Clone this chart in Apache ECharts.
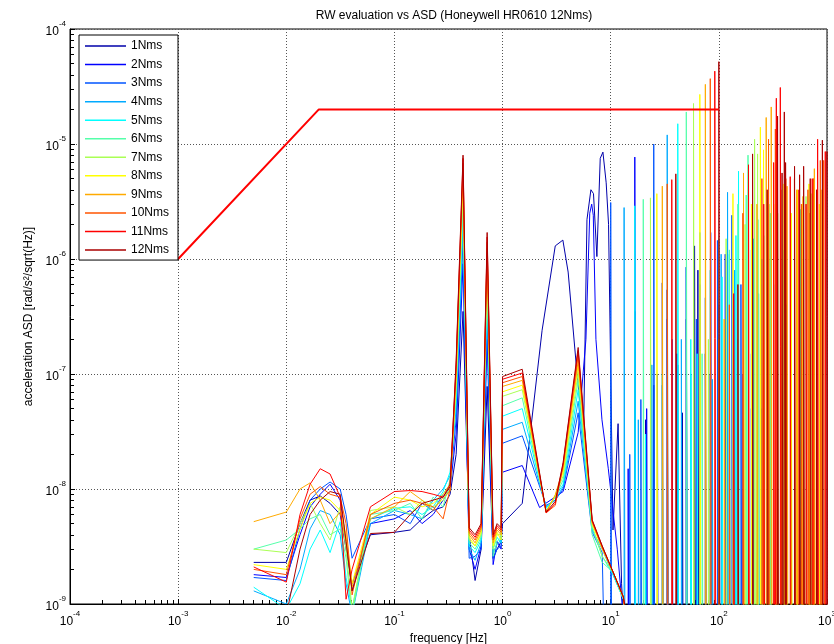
<!DOCTYPE html>
<html>
<head>
    <meta charset="utf-8">
    <title>RW evaluation vs ASD</title>
    <script src="https://cdn.jsdelivr.net/npm/echarts@6/dist/echarts.min.js"></script>
    <style>html, body { margin: 0; padding: 0; background: #fff; }</style>
</head>
<body>
    <div id="main" style="width: 834px;height:644px;"></div>

    <script type="text/javascript">

        var myChart = echarts.init(document.getElementById('main'));

        var names = ['1Nms', '2Nms', '3Nms', '4Nms', '5Nms', '6Nms', '7Nms', '8Nms', '9Nms', '10Nms', '11Nms', '12Nms'];
        var colors = ['#0000aa', '#0000ff', '#0055ff', '#00aaff', '#00ffff', '#55ffaa',
                      '#aaff55', '#ffff00', '#ffaa00', '#ff5500', '#ff0000', '#aa0000'];

        // low frequency part, shared frequency grid [Hz]
        var lowFreq = [0.005, 0.01, 0.0134, 0.0166, 0.0206, 0.0254, 0.0315, 0.0357, 0.0406, 0.06, 0.1, 0.14, 0.18,
                       0.228, 0.282, 0.327, 0.372, 0.431, 0.491, 0.557, 0.634, 0.72, 0.818, 0.89, 0.97];
        var low1  = [2.3e-9, 2.3e-9, 5e-9, 8e-9, 8.7e-9, 7.5e-9, 6e-9, 3e-9, 1.5e-9, 4e-9, 4.2e-9, 4.4e-9, 5.5e-9,
                     6.5e-9, 7e-9, 9e-9, 2e-8, 3.5e-7, 4e-9, 1.6e-9, 3e-9, 7.8e-8, 2.5e-9, 3e-9, 3.5e-9];
        var low2  = [1.8e-9, 1.7e-9, 4e-9, 7e-9, 9e-9, 1.1e-8, 8e-9, 3.5e-9, 1.3e-9, 5e-9, 5.5e-9, 6.5e-9, 5e-9,
                     6e-9, 8e-9, 1e-8, 3e-8, 9.1e-7, 3e-9, 2e-9, 3.2e-9, 2e-7, 2.2e-9, 3.5e-9, 3e-9];
        var low3  = [1.7e-9, 1.6e-9, 4.5e-9, 8e-9, 1e-8, 1.15e-8, 1e-8, 6e-9, 2.5e-9, 5.5e-9, 6e-9, 5e-9, 7.5e-9,
                     6.5e-9, 9e-9, 1.1e-8, 4e-8, 1.46e-6, 2.5e-9, 2.6e-9, 3e-9, 3e-7, 2.5e-9, 3e-9, 3.2e-9];
        var low4  = [1.3e-9, 1.0e-9, 2e-9, 4.5e-9, 6.5e-9, 6e-9, 4e-9, 1.5e-9, 8e-10, 5e-9, 6.5e-9, 6e-9, 5.5e-9,
                     8e-9, 1.0e-8, 1.3e-8, 5e-8, 2.0e-6, 3e-9, 2.4e-9, 3.4e-9, 4.7e-7, 2.8e-9, 3.3e-9, 3.6e-9];
        var low5  = [1.4e-9, 9e-10, 1.5e-9, 3e-9, 4.4e-9, 2.8e-9, 5.2e-9, 1.7e-9, 9e-10, 5.5e-9, 6.8e-9, 7e-9, 6e-9,
                     7e-9, 9.5e-9, 1.4e-8, 6e-8, 2.7e-6, 3.2e-9, 2.8e-9, 3.6e-9, 6.2e-7, 3e-9, 3.8e-9, 3.4e-9];
        var low6  = [3e-9, 3.6e-9, 4.5e-9, 5.5e-9, 6e-9, 4e-9, 4.5e-9, 2.5e-9, 8e-10, 6e-9, 6.5e-9, 7.5e-9, 5.5e-9,
                     8.5e-9, 7e-9, 1.2e-8, 7e-8, 3.4e-6, 3.4e-9, 3e-9, 3.8e-9, 7.6e-7, 2.6e-9, 3.5e-9, 3.8e-9];
        var low7  = [3e-9, 2.8e-9, 5e-9, 7.5e-9, 5e-9, 3.6e-9, 7e-9, 3e-9, 9e-10, 6.5e-9, 7e-9, 6e-9, 8e-9,
                     7e-9, 8e-9, 1e-8, 8e-8, 4.2e-6, 3.6e-9, 3.2e-9, 4e-9, 9.3e-7, 3e-9, 4e-9, 4e-9];
        var low8  = [2.2e-9, 2.0e-9, 4.5e-9, 7.5e-9, 8.5e-9, 8e-9, 6.5e-9, 4e-9, 1.5e-9, 6e-9, 8.5e-9, 8e-9, 7e-9,
                     7.5e-9, 9e-9, 1.1e-8, 9e-8, 5.2e-6, 3.8e-9, 3.2e-9, 4.2e-9, 1.1e-6, 3.2e-9, 4.2e-9, 3.6e-9];
        var low9  = [5.2e-9, 6.3e-9, 1e-8, 1.13e-8, 8e-9, 5e-9, 6.3e-9, 3.5e-9, 1.4e-9, 5.5e-9, 7e-9, 9.5e-9, 8e-9,
                     6.5e-9, 8.5e-9, 9.5e-9, 1e-7, 6e-6, 4e-9, 3.4e-9, 4.4e-9, 1.25e-6, 3.4e-9, 4.4e-9, 4e-9];
        var low10 = [2e-9, 1.8e-9, 5.5e-9, 9e-9, 1.05e-8, 9e-9, 8.5e-9, 5e-9, 1.2e-9, 6e-9, 7.5e-9, 8e-9, 7.5e-9,
                     7e-9, 5.5e-9, 1e-8, 1.1e-7, 6.8e-6, 4.2e-9, 3.6e-9, 4.6e-9, 1.4e-6, 3.6e-9, 4.6e-9, 4.2e-9];
        var low11 = [2.1e-9, 1.55e-9, 6e-9, 1.1e-8, 1.5e-8, 1.35e-8, 8.5e-9, 1.1e-9, 2e-9, 7e-9, 9.5e-9, 9.7e-9, 9.5e-9,
                     9e-9, 8.5e-9, 1.1e-8, 1.2e-7, 7.5e-6, 4.4e-9, 3.8e-9, 4.8e-9, 1.55e-6, 3.8e-9, 4.8e-9, 4.4e-9];
        var low12 = [9e-10, 8e-10, 3e-9, 6e-9, 8e-9, 9.5e-9, 9e-9, 3.5e-9, 1.3e-9, 4.1e-9, 4.2e-9, 6e-9, 7.5e-9,
                     8e-9, 8.5e-9, 1.05e-8, 1.3e-7, 8e-6, 4.6e-9, 4e-9, 5e-9, 1.7e-6, 4e-9, 5e-9, 4.6e-9];

        // 1..13 Hz part
        var midFreq = [1.0, 1.52, 2.53, 3.07, 3.63, 5.0, 6.74, 8.34, 10.5, 13.1];
        var midFreq1 = [1.0, 1.52, 2.32, 3.07, 3.61, 4.04, 4.8, 5.6, 6.03, 6.56, 6.93, 7.45, 8.0, 8.47, 9.08, 9.55, 10.5, 11.7, 12.6, 13.5];
        var mid1  = [5e-9, 7.5e-9, 2.4e-7, 1.3e-6, 1.46e-6, 7.7e-7, 1.2e-7, 2.7e-8, 2.2e-6, 4.0e-6, 3.7e-6, 1.05e-6, 7.5e-6, 8.5e-6, 4.6e-6, 2.0e-6, 4.4e-9, 3.7e-8, 1.5e-9, 5e-10];
        var midFreq2 = [1.0, 1.52, 2.2, 3.63, 5.0, 5.9, 6.4, 6.67, 6.9, 7.3, 8.3, 9.5, 11.5, 13.0];
        var mid2  = [1.4e-8, 1.6e-8, 6.9e-9, 9.5e-9, 3.1e-8, 2e-7, 2.5e-6, 3.0e-6, 2.4e-6, 2e-7, 4e-8, 1.5e-8, 3e-9, 8e-10];
        var mid3  = [2.5e-8, 2.9e-8, 7.2e-9, 8e-9, 1.0e-8, 4.6e-8, 4.2e-9, 2.8e-9];
        var mid4  = [3.3e-8, 3.8e-8, 7e-9, 8e-9, 1.05e-8, 5.8e-8, 4.4e-9, 3e-9, 1.8e-9, 1.1e-9];
        var mid5  = [4.3e-8, 5e-8, 6.8e-9, 8.5e-9, 1.1e-8, 7.3e-8, 4.6e-9, 2.6e-9, 1.8e-9, 1.1e-9];
        var mid6  = [5.3e-8, 6.2e-8, 6.5e-9, 8.5e-9, 1.2e-8, 8.9e-8, 4.0e-9, 2.3e-9, 1.9e-9, 1.1e-9];
        var mid7  = [6.4e-8, 7.3e-8, 6.4e-9, 8.7e-9, 1.3e-8, 1.03e-7, 4.8e-9, 2.6e-9, 1.9e-9, 1.1e-9];
        var mid8  = [7.0e-8, 8e-8, 6.3e-9, 8.8e-9, 1.4e-8, 1.2e-7, 5e-9, 3e-9, 1.9e-9, 1.15e-9];
        var mid9  = [7.8e-8, 8.8e-8, 6.3e-9, 8.9e-9, 1.5e-8, 1.3e-7, 5.1e-9, 3.1e-9, 1.9e-9, 1.15e-9];
        var mid10 = [8.4e-8, 9.5e-8, 6.2e-9, 7.2e-9, 1.6e-8, 1.45e-7, 5.2e-9, 3.1e-9, 1.9e-9, 1.15e-9];
        var mid11 = [9e-8, 1.02e-7, 6.2e-9, 7.5e-9, 1.65e-8, 1.6e-7, 5.3e-9, 3.2e-9, 1.9e-9, 1.15e-9];
        var mid12 = [9.5e-8, 1.1e-7, 6.3e-9, 7.8e-9, 1.7e-8, 1.7e-7, 5.4e-9, 3.2e-9, 1.9e-9, 1.15e-9];

        // wheel harmonic peaks [Hz, ASD]
        var peaks1  = [[16.7, 3.5e-7], [21, 4e-8], [25, 8e-8], [30, 6.2e-7], [33.3, 5.4e-7], [41.7, 1.2e-7], [46, 4.6e-8],
                       [50, 3e-7], [59.6, 1.3e-6], [64, 8e-7], [75, 1.5e-7], [83.3, 1e-7], [100, 6e-8]];
        var peaks2  = [[14.5, 1.5e-8], [16.7, 7.7e-6], [21.5, 5e-8], [27, 1e-7], [33.3, 3e-7], [41, 1.5e-7], [50, 8.5e-7],
                       [66.7, 6e-7], [84, 1.7e-6], [100, 4e-7], [114.6, 1.1e-6], [150, 2e-7], [166.7, 1e-7], [200, 5e-8]];
        var peaks3  = [[10, 3.1e-6], [15, 2e-8], [19, 6e-8], [25, 1.0e-5], [30, 8e-8], [37, 2e-7], [50, 8.5e-7], [62, 3e-7],
                       [75, 4.6e-7], [97, 1.45e-6], [132, 2.4e-6], [160, 6e-7], [200, 1.5e-7], [250, 5e-8]];
        var peaks4  = [[13.3, 2.8e-6], [18, 4e-8], [24, 1.2e-7], [33.3, 1.2e-5], [45, 2e-7], [55, 1e-7], [66.7, 1.7e-6],
                       [87, 9e-8], [105, 1.1e-6], [120.3, 3.8e-6], [140, 8e-7], [200, 1.2e-6], [233, 5e-7], [300, 3e-7]];
        var peaks5  = [[16.7, 2.9e-6], [21, 3e-8], [30, 1e-7], [41.7, 1.5e-5], [55, 2e-7], [63, 1.5e-7], [83.3, 8e-7], [107, 7e-7],
                       [125, 1.1e-6], [143.9, 1.6e-6], [152, 5.8e-6], [208, 1.5e-6], [250, 1e-6], [333, 6e-7], [420, 4e-7], [566, 1.8e-6]];
        var peaks6  = [[20, 3.3e-6], [50, 1.9e-5], [70, 1.5e-7], [100, 1.5e-6], [125, 1.2e-6], [150, 3e-6], [179, 3.6e-6],
                       [186, 8.0e-6], [230, 2.2e-6], [260, 1.6e-6], [300, 2.5e-6], [400, 1.2e-6], [460, 1.8e-6], [566, 2.7e-6], [700, 1e-6]];
        var peaks7  = [[23.3, 3.4e-6], [58.3, 2.25e-5], [80, 2e-7], [116.7, 1.5e-6], [175, 2e-6], [214, 1.1e-5], [228, 8.2e-6],
                       [291, 3e-6], [350, 2.5e-6], [408, 3e-6], [466, 2.5e-6], [525, 3.5e-6], [583, 2e-6], [640, 3.5e-6],
                       [716, 3.7e-6], [800, 2e-6]];
        var peaks8  = [[26.7, 3.7e-6], [66.7, 2.7e-5], [100, 2e-7], [135, 3.7e-6], [200, 3e-6], [242, 1.4e-5], [259, 8.9e-6],
                       [333, 3e-6], [400, 4.5e-6], [466, 2.5e-6], [533, 4e-6], [600, 3e-6], [681, 4.5e-6], [745, 2e-6], [850, 3e-6]];
        var peaks9  = [[30, 4.3e-6], [75, 3.3e-5], [112, 3e-7], [169, 5.6e-6], [225, 3e-6], [274, 1.7e-5], [305, 2.1e-5],
                       [375, 4e-6], [427, 4.3e-6], [525, 4e-6], [600, 3.5e-6], [690, 2.5e-6], [764, 6.1e-6], [880, 4e-6]];
        var peaks10 = [[33.3, 4.5e-6], [83.3, 3.7e-5], [125, 4e-7], [166.7, 2.5e-6], [250, 5e-6], [288, 1.1e-5], [333, 1.35e-5],
                       [416, 5e-6], [500, 5e-6], [580, 3e-6], [666, 4e-6], [750, 5e-6], [867, 7.2e-6], [931, 7.2e-6]];
        var peaks11 = [[36.7, 4.9e-6], [91.7, 4.3e-5], [137, 5e-7], [188, 6.6e-6], [260, 3e-6], [321, 6.9e-6], [340, 2.5e-5],
                       [370, 3.1e-5], [457, 5.2e-6], [550, 4e-6], [640, 3e-6], [730, 5e-6], [819, 1.1e-5], [964, 8.6e-6]];
        var peaks12 = [[40, 5.5e-6], [100, 5.2e-5], [150, 6e-7], [205, 8.2e-6], [280, 4e-6], [349, 1.75e-5], [384, 5.6e-6],
                       [403, 1.9e-5], [414, 6.9e-6], [501, 6.4e-6], [558, 5.4e-6], [608, 6.4e-6], [700, 5e-6], [800, 4e-6],
                       [906, 1.08e-5], [1000, 8.6e-6]];

        // between the harmonics the ASD falls far below the plotted range
        var floorAsd = 1e-12;
        // a harmonic spans one PSD bin at its top
        var binRatio = 1.03;

        // requirement
        var reqFreq = [1e-3, 2e-2, 1e2];
        var reqAsd  = [1e-6, 2e-5, 2e-5];

        var lows  = [low1, low2, low3, low4, low5, low6, low7, low8, low9, low10, low11, low12];
        var mids  = [mid1, mid2, mid3, mid4, mid5, mid6, mid7, mid8, mid9, mid10, mid11, mid12];
        var midFs = [midFreq1, midFreq2, midFreq, midFreq, midFreq, midFreq, midFreq, midFreq, midFreq, midFreq, midFreq, midFreq];
        var peaks = [peaks1, peaks2, peaks3, peaks4, peaks5, peaks6, peaks7, peaks8, peaks9, peaks10, peaks11, peaks12];

        function buildData(i) {
            var d = [];
            lowFreq.forEach(function (f, k) { d.push([f, lows[i][k]]); });
            mids[i].forEach(function (v, k) { d.push([midFs[i][k], v]); });
            peaks[i].forEach(function (p) {
                var f2 = p[0] * binRatio;
                d.push([p[0], floorAsd], [p[0], p[1]], [f2, p[1]], [f2, floorAsd]);
            });
            return d;
        }

        var series = names.map(function (n, i) {
            return {
                name: n,
                type: 'line',
                data: buildData(i),
                symbol: 'none',
                clip: true,
                lineStyle: { color: colors[i], width: 1 },
                itemStyle: { color: colors[i] }
            };
        });
        series.push({
            name: 'requirement',
            type: 'line',
            data: reqFreq.map(function (f, k) { return [f, reqAsd[k]]; }),
            symbol: 'none',
            lineStyle: { color: '#ff0000', width: 2 },
            z: 3
        });

        // log minor ticks (1..9 of each decade)
        function logTicks(a, b) {
            var t = [];
            for (var k = a; k < b; k++) {
                for (var m = 1; m < 10; m++) t.push(m * Math.pow(10, k));
            }
            t.push(Math.pow(10, b));
            return t;
        }

        function powLabel(v) {
            return '{b|10}{e|' + Math.round(Math.log10(v)) + '}';
        }
        var labelRich = {
            b: { fontSize: 12, lineHeight: 18, verticalAlign: 'bottom', fontFamily: 'Liberation Sans', color: '#000' },
            e: { fontSize: 8, lineHeight: 18, verticalAlign: 'top', fontFamily: 'Liberation Sans', color: '#000' }
        };
        var gridLine = { show: true, lineStyle: { color: '#555', type: [1, 2], width: 1 } };
        var nameStyle = { fontSize: 12, fontFamily: 'Liberation Sans', color: '#000' };

        option = {
            animation: false,
            backgroundColor: '#fff',
            title: {
                text: 'RW evaluation vs ASD (Honeywell HR0610 12Nms)',
                left: 449,
                textAlign: 'center',
                top: 5,
                textStyle: { fontSize: 12, fontWeight: 'normal', fontFamily: 'Liberation Sans', color: '#000' }
            },
            legend: {
                data: names,
                orient: 'vertical',
                left: 79,
                top: 35,
                padding: [4, 9, 3, 6],
                itemGap: 4.55,
                itemWidth: 41,
                itemHeight: 1.5,
                icon: 'rect',
                backgroundColor: '#fff',
                borderColor: '#000',
                borderWidth: 1,
                textStyle: { fontSize: 12, lineHeight: 14, fontFamily: 'Liberation Sans', color: '#000' }
            },
            grid: {
                left: 70, right: 7, top: 29, bottom: 40,
                containLabel: false,
                outerBoundsMode: 'none',
                show: true, borderColor: '#000', borderWidth: 1
            },
            xAxis: [{
                type: 'log',
                logBase: 10,
                min: 1e-4,
                max: 1e3,
                name: 'frequency [Hz]',
                nameLocation: 'middle',
                nameGap: 27,
                nameTextStyle: nameStyle,
                axisLine: { lineStyle: { color: '#000', width: 1 } },
                axisTick: { inside: true, length: 5, lineStyle: { color: '#000' } },
                axisLabel: { formatter: powLabel, rich: labelRich, margin: 6 },
                splitLine: gridLine
            }, {
                type: 'log',
                logBase: 10,
                min: 1e-4,
                max: 1e3,
                position: 'bottom',
                axisLine: { show: false },
                axisTick: { inside: true, length: 4, customValues: logTicks(-4, 3), lineStyle: { color: '#000' } },
                axisLabel: { show: false },
                splitLine: { show: false }
            }],
            yAxis: [{
                type: 'log',
                logBase: 10,
                min: 1e-9,
                max: 1e-4,
                name: 'acceleration ASD [rad/s²/sqrt(Hz)]',
                nameLocation: 'middle',
                nameGap: 30,
                nameTextStyle: nameStyle,
                axisLine: { lineStyle: { color: '#000', width: 1 } },
                axisTick: { inside: true, length: 5, lineStyle: { color: '#000' } },
                axisLabel: { formatter: powLabel, rich: labelRich, margin: 4 },
                splitLine: gridLine
            }, {
                type: 'log',
                logBase: 10,
                min: 1e-9,
                max: 1e-4,
                position: 'left',
                axisLine: { show: false },
                axisTick: { inside: true, length: 4, customValues: logTicks(-9, -4), lineStyle: { color: '#000' } },
                axisLabel: { show: false },
                splitLine: { show: false }
            }],
            series: series
        };

        myChart.setOption(option);

    </script>
</body>
</html>
